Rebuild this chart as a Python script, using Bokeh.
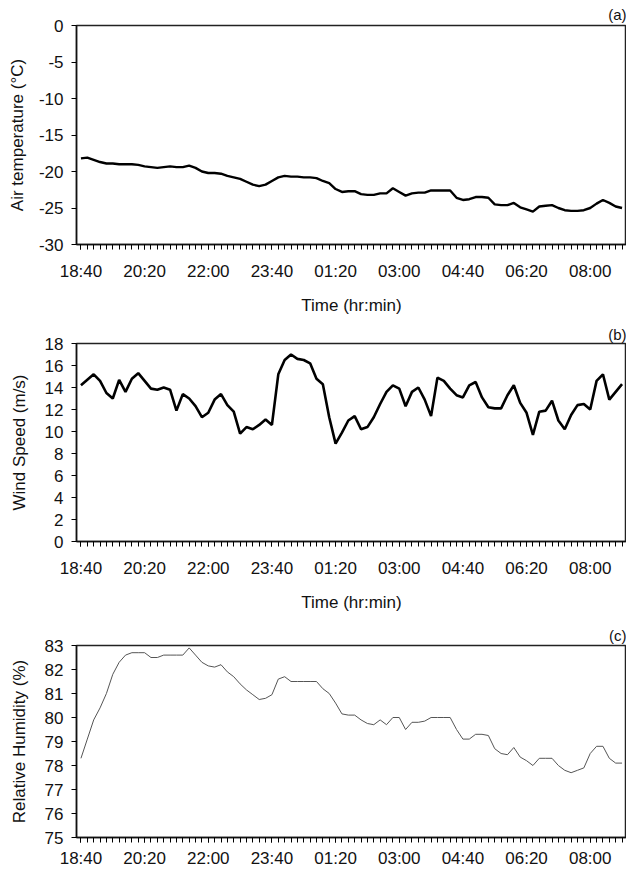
from bokeh.plotting import figure
from bokeh.layouts import column
from bokeh.models import FixedTicker, Range1d, Title
from bokeh.embed import file_html
from bokeh.resources import INLINE

# minutes after 18:40, every 10 minutes
minutes = [10 * k for k in range(86)]
tick_minutes = [0, 100, 200, 300, 400, 500, 600, 700, 800]
tick_labels = ["18:40", "20:20", "22:00", "23:40", "01:20", "03:00", "04:40", "06:20", "08:00"]

air_temp = [
    -18.2, -18.1, -18.4, -18.7, -18.9, -18.9, -19.0, -19.0, -19.0, -19.1,
    -19.3, -19.4, -19.5, -19.4, -19.3, -19.4, -19.4, -19.2, -19.5, -20.0,
    -20.2, -20.2, -20.3, -20.6, -20.8, -21.0, -21.4, -21.8, -22.0, -21.8,
    -21.3, -20.8, -20.6, -20.7, -20.7, -20.8, -20.8, -20.9, -21.3, -21.6,
    -22.4, -22.8, -22.7, -22.7, -23.1, -23.2, -23.2, -23.0, -23.0, -22.3,
    -22.8, -23.3, -23.0, -22.9, -22.9, -22.6, -22.6, -22.6, -22.6, -23.6,
    -23.9, -23.8, -23.5, -23.5, -23.6, -24.5, -24.6, -24.6, -24.3, -24.9,
    -25.2, -25.5, -24.8, -24.7, -24.6, -25.0, -25.3, -25.4, -25.4, -25.3,
    -25.0, -24.4, -23.9, -24.3, -24.8, -25.0,
]

wind_speed = [
    14.2, 14.7, 15.2, 14.6, 13.5, 13.0, 14.7, 13.6, 14.8, 15.3,
    14.6, 13.9, 13.8, 14.0, 13.8, 11.9, 13.4, 13.0, 12.3, 11.3,
    11.7, 12.9, 13.4, 12.4, 11.8, 9.8, 10.4, 10.2, 10.6, 11.1,
    10.6, 15.2, 16.5, 17.0, 16.6, 16.5, 16.2, 14.8, 14.3, 11.3,
    8.9, 9.9, 11.0, 11.4, 10.2, 10.4, 11.3, 12.5, 13.6, 14.2,
    13.9, 12.3, 13.6, 14.0, 12.9, 11.4, 14.9, 14.6, 13.9, 13.3,
    13.1, 14.2, 14.5, 13.1, 12.2, 12.1, 12.1, 13.3, 14.2, 12.6,
    11.7, 9.7, 11.8, 11.9, 12.8, 11.0, 10.2, 11.5, 12.4, 12.5,
    12.0, 14.6, 15.2, 12.9, 13.6, 14.3,
]

humidity = [
    78.3, 79.1, 79.9, 80.4, 81.0, 81.8, 82.3, 82.6, 82.7, 82.7,
    82.7, 82.5, 82.5, 82.6, 82.6, 82.6, 82.6, 82.9, 82.6, 82.3,
    82.15, 82.1, 82.2, 81.9, 81.7, 81.4, 81.15, 80.95, 80.75, 80.8,
    80.95, 81.6, 81.7, 81.5, 81.5, 81.5, 81.5, 81.5, 81.2, 81.0,
    80.6, 80.15, 80.1, 80.1, 79.9, 79.75, 79.7, 79.9, 79.7, 80.0,
    80.0, 79.5, 79.8, 79.8, 79.85, 80.0, 80.0, 80.0, 80.0, 79.5,
    79.1, 79.1, 79.3, 79.3, 79.25, 78.7, 78.5, 78.45, 78.75, 78.35,
    78.2, 78.0, 78.3, 78.3, 78.3, 78.0, 77.8, 77.7, 77.8, 77.9,
    78.5, 78.8, 78.8, 78.3, 78.1, 78.1,
]

temp_ticks = [-30, -25, -20, -15, -10, -5, 0]
wind_ticks = [0, 2, 4, 6, 8, 10, 12, 14, 16, 18]
hum_ticks = [75, 76, 77, 78, 79, 80, 81, 82, 83]

FONT = "Liberation Sans"
FS = "17px"
INK = "#111111"
X_START, X_END = -7, 857
W = 626


def make_panel(y, ystart, yend, yticks, ylabel, tag, height, left, top, bottom,
               lw, color, xlabel, tag_standoff, ylab_standoff, tick_standoff):
    p = figure(width=W, height=height, output_backend="svg", toolbar_location=None,
               x_range=Range1d(X_START, X_END), y_range=Range1d(ystart, yend),
               min_border_left=left, min_border_right=0,
               min_border_top=top, min_border_bottom=bottom)
    p.title = Title(text=tag, align="right", text_font=FONT, text_font_size="15px",
                    text_font_style="normal", text_color=INK, standoff=tag_standoff)
    p.line(minutes, y, line_color=color, line_width=lw)
    p.xgrid.visible = False
    p.ygrid.visible = False
    p.outline_line_color = "#222222"
    p.outline_line_width = 1.5

    xa = p.xaxis[0]
    xa.ticker = FixedTicker(ticks=tick_minutes, minor_ticks=minutes)
    xa.major_label_overrides = {m: s for m, s in zip(tick_minutes, tick_labels)}
    xa.major_tick_in = 0
    xa.major_tick_out = 5
    xa.minor_tick_in = 0
    xa.minor_tick_out = 5
    xa.axis_line_width = 1.5
    xa.axis_line_color = INK
    xa.major_label_text_font = FONT
    xa.major_label_text_font_size = FS
    xa.major_label_text_color = INK
    xa.major_label_standoff = tick_standoff
    if xlabel:
        xa.axis_label = xlabel
        xa.axis_label_text_font = FONT
        xa.axis_label_text_font_size = FS
        xa.axis_label_text_font_style = "normal"
        xa.axis_label_text_color = INK
        xa.axis_label_standoff = 12

    ya = p.yaxis[0]
    ya.ticker = FixedTicker(ticks=yticks)
    ya.major_label_overrides = {t: str(t) for t in yticks}
    ya.minor_tick_line_color = None
    ya.major_tick_in = 0
    ya.major_tick_out = 5
    ya.axis_line_width = 1.5
    ya.axis_line_color = INK
    ya.major_label_text_font = FONT
    ya.major_label_text_font_size = FS
    ya.major_label_text_color = INK
    ya.major_label_standoff = 8
    ya.axis_label = ylabel
    ya.axis_label_text_font = FONT
    ya.axis_label_text_font_size = FS
    ya.axis_label_text_font_style = "normal"
    ya.axis_label_text_color = INK
    ya.axis_label_standoff = ylab_standoff
    return p


pa = make_panel(air_temp, -30, 0, temp_ticks,
                "Air temperature (\u00b0C)", "(a)", 322, 76, 24, 78,
                2.4, "black", "Time (hr:min)", 6, 9, 12)
pb = make_panel(wind_speed, 0, 18, wind_ticks,
                "Wind Speed (m/s)", "(b)", 300, 70, 21, 81,
                2.6, "black", "Time (hr:min)", 2, 13, 12)
pc = make_panel(humidity, 75, 83, hum_ticks,
                "Relative Humidity (%)", "(c)", 248, 70, 19, 31,
                1.0, "#555555", None, 4, 13, 6)

layout = column(pa, pb, pc, spacing=0)
open("out.html", "w").write(file_html(layout, INLINE))
